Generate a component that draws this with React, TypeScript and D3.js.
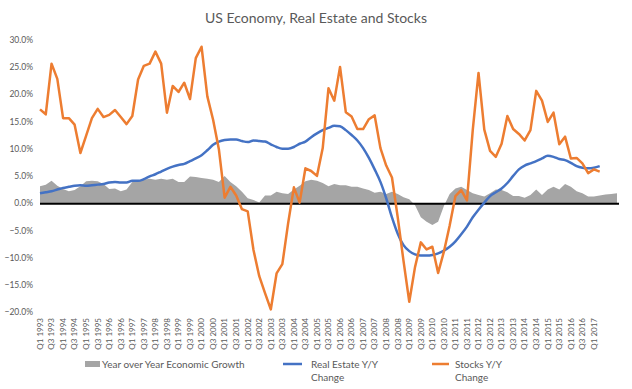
import React from 'react'
import * as d3 from 'd3'

// quarters: Q1 1993 .. Q1 2018, labels every second quarter up to Q1 2017
const years = d3.range(1993, 2019)
const quarters = years.flatMap((y) => [1, 2, 3, 4].map((q) => `Q${q} ${y}`)).slice(0, 101)
const tickLabels = quarters.filter((q, i) => i % 2 === 0 && i <= 96)

const gdp = [
    3.2, 3.5, 4.2, 3.3, 2.7, 2.3, 2.5, 3.2, 4.1, 4.2, 4.1, 3.6, 2.7, 2.8, 2.3, 2.6,
    4.0, 4.3, 4.4, 4.6, 4.4, 4.6, 4.4, 4.6, 4.0, 4.0, 5.0, 4.9, 4.7, 4.6, 4.4, 4.0,
    5.1, 4.0, 3.2, 2.2, 1.0, 0.7, 0.2, 1.5, 1.5, 2.2, 1.9, 1.8, 2.6, 3.3, 4.1, 4.4,
    4.2, 3.8, 3.2, 3.6, 3.4, 3.4, 3.1, 3.1, 2.8, 2.5, 2.0, 2.2, 1.8, 2.2, 1.8, 1.2,
    0.8, -0.3, -2.5, -3.3, -3.9, -3.3, -0.4, 1.8, 2.8, 3.1, 2.5, 1.9, 1.6, 1.3, 1.9, 2.6,
    2.5, 2.1, 1.4, 1.4, 1.1, 1.6, 2.6, 1.6, 2.6, 3.1, 2.6, 3.6, 3.1, 2.3, 1.9, 1.3,
    1.3, 1.5, 1.7, 1.8, 1.9
]

const realEstate = [
    1.9, 2.1, 2.3, 2.6, 2.9, 3.1, 3.3, 3.4, 3.3, 3.4, 3.5, 3.6, 3.9, 4.0, 3.9, 3.9,
    4.2, 4.2, 4.5, 5.0, 5.4, 5.9, 6.4, 6.8, 7.1, 7.3, 7.8, 8.3, 8.9, 9.8, 10.8, 11.4,
    11.7, 11.8, 11.8, 11.5, 11.3, 11.6, 11.5, 11.4, 10.9, 10.4, 10.1, 10.1, 10.4, 11.0, 11.4, 12.2,
    12.9, 13.5, 13.9, 14.3, 14.2, 13.5, 12.6, 11.6, 10.2, 8.4, 6.3, 4.0, 1.0, -2.5, -5.5, -7.6,
    -8.7, -9.3, -9.5, -9.5, -9.4, -9.1, -8.6, -7.9, -6.9, -5.6, -4.2, -2.5, -1.1, 0.2, 1.4, 2.1,
    2.8, 3.8, 5.1, 6.3, 7.0, 7.4, 7.8, 8.3, 8.8, 8.6, 8.2, 8.0, 7.5, 6.9, 6.6, 6.5,
    6.6, 6.9
]

const stocks = [
    17.3, 16.4, 25.7, 22.9, 15.7, 15.7, 14.5, 9.3, 12.5, 15.7, 17.4, 15.9, 16.3, 17.2, 15.9, 14.6,
    16.1, 22.8, 25.3, 25.7, 27.9, 25.7, 16.7, 21.6, 20.5, 22.2, 19.2, 26.7, 28.8, 19.7, 15.4, 10.0,
    1.1, 3.1, 1.5, -1.0, -1.4, -8.5, -13.3, -16.4, -19.4, -12.8, -11.1, -3.6, 3.0, 0.2, 6.5, 6.0,
    5.1, 10.2, 21.2, 18.9, 25.1, 16.8, 16.0, 13.7, 13.7, 15.5, 16.2, 10.2, 7.0, 4.8, -2.5, -10.5,
    -18.0, -11.6, -7.1, -8.4, -7.9, -12.7, -8.8, -4.0, 1.4, 2.5, 0.6, 13.5, 24.0, 13.6, 9.7, 8.6,
    11.0, 16.1, 13.7, 12.8, 11.6, 13.5, 20.7, 18.9, 15.0, 16.7, 10.9, 12.3, 8.3, 8.4, 7.4, 5.6,
    6.3, 5.9
]

const yTicks = [30, 25, 20, 15, 10, 5, 0, -5, -10, -15, -20]

const W = 632
const H = 389
const font = "Lato, 'Open Sans', sans-serif"
const grey = '#595959'

export default function App() {
    const x = d3.scaleLinear().domain([0, quarters.length - 1]).range([40, 617])
    const y = d3.scaleLinear().domain([-20, 30]).range([312.7, 40.2])

    const area = d3.area<number>()
        .x((d, i) => x(i))
        .y0(y(0))
        .y1((d) => y(d))

    const reLine = d3.line<number>()
        .x((d, i) => x(i))
        .y((d) => y(d))
        .curve(d3.curveMonotoneX)

    const stLine = d3.line<number>()
        .x((d, i) => x(i))
        .y((d) => y(d))

    return (
        <svg width={W} height={H} style={{ position: 'absolute', left: 0, top: 0, background: '#fff' }}
            fontFamily={font}>
            <text x={316} y={23} textAnchor="middle" fontSize={14} fill={grey}>
                US Economy, Real Estate and Stocks
            </text>

            {yTicks.map((t) => (
                <text key={t} x={33} y={y(t)} dy="0.32em" textAnchor="end" fontSize={8.5} fill={grey}>
                    {d3.format('.1f')(t) + '%'}
                </text>
            ))}

            <path d={area(gdp) || ''} fill="#A5A5A5" />
            <line x1={x(0)} x2={619} y1={y(0)} y2={y(0)} stroke="#000" strokeWidth={2} />
            <path d={reLine(realEstate) || ''} fill="none" stroke="#4472C4" strokeWidth={2.5} />
            <path d={stLine(stocks) || ''} fill="none" stroke="#ED7D31" strokeWidth={2.5}
                strokeLinejoin="round" />

            {tickLabels.map((lab, k) => (
                <text key={lab} transform={`translate(${x(k * 2)},318) rotate(-90)`} dy="0.35em"
                    textAnchor="end" fontSize={8} fill={grey}>
                    {lab}
                </text>
            ))}

            <g fontSize={10} fill={grey}>
                <rect x={85} y={361} width={15} height={6} fill="#A5A5A5" />
                <text x={102} y={367.5}>Year over Year Economic Growth</text>
                <line x1={283} x2={302} y1={364} y2={364} stroke="#4472C4" strokeWidth={2.5} />
                <text x={311} y={367.5}>Real Estate Y/Y</text>
                <text x={311} y={381}>Change</text>
                <line x1={432} x2={449} y1={364} y2={364} stroke="#ED7D31" strokeWidth={2.5} />
                <text x={455} y={367.5}>Stocks Y/Y</text>
                <text x={455} y={381}>Change</text>
            </g>
        </svg>
    )
}
